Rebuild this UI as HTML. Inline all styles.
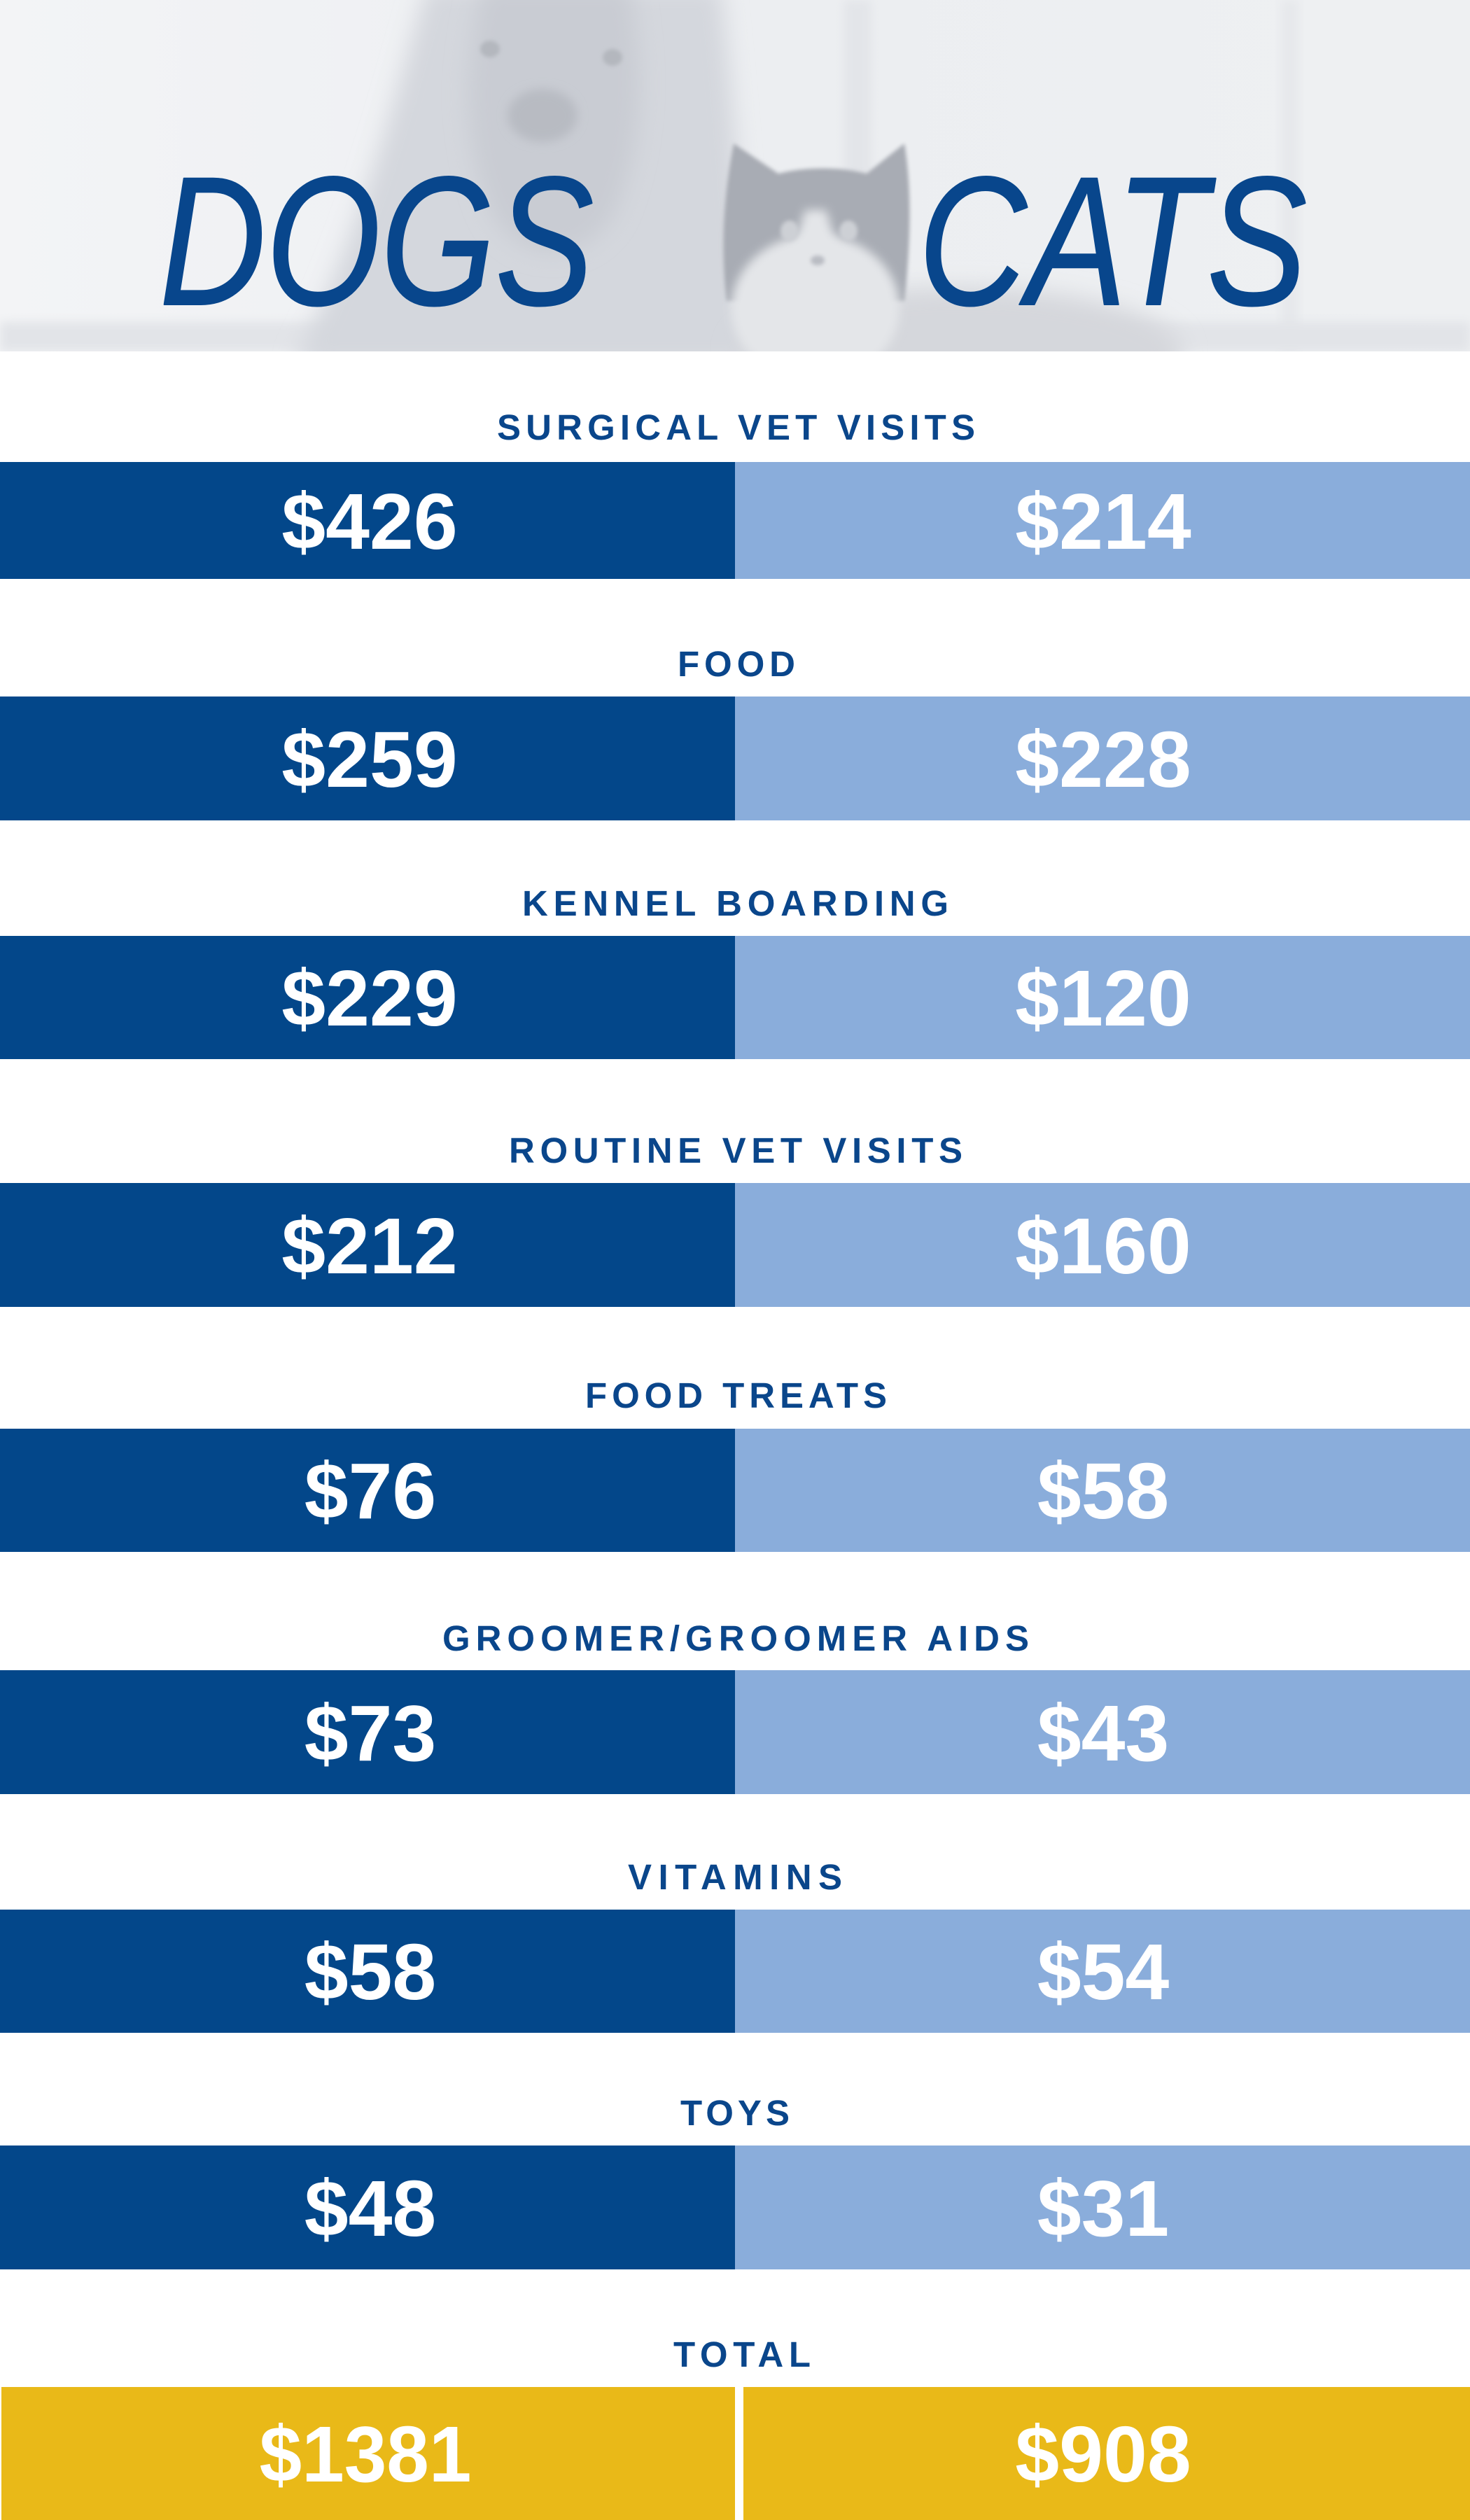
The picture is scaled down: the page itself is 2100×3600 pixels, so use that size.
<!DOCTYPE html>
<html>
<head>
<meta charset="utf-8">
<style>
html,body{margin:0;padding:0;background:#fff;}
body{width:2100px;height:3600px;overflow:hidden;}
svg{display:block;}
.lbl{font-family:"Liberation Sans",Arial,sans-serif;font-weight:bold;font-size:51px;fill:#0a468b;}
.val{font-family:"Liberation Sans",Arial,sans-serif;font-weight:bold;font-size:113px;fill:#ffffff;text-anchor:middle;}
.ttl{font-family:"Liberation Sans",Arial,sans-serif;font-style:italic;font-weight:normal;font-size:262px;fill:#08468c;stroke:#08468c;stroke-width:2px;stroke-linejoin:round;}
</style>
</head>
<body>
<svg width="2100" height="3600" viewBox="0 0 2100 3600" xmlns="http://www.w3.org/2000/svg">
<defs>
<filter id="bl" x="-30%" y="-30%" width="160%" height="160%"><feGaussianBlur stdDeviation="16"/></filter>
<filter id="bm" x="-30%" y="-30%" width="160%" height="160%"><feGaussianBlur stdDeviation="7"/></filter>
<filter id="bs" x="-30%" y="-30%" width="160%" height="160%"><feGaussianBlur stdDeviation="3"/></filter>
<linearGradient id="bg" x1="0" y1="0" x2="1" y2="0">
<stop offset="0" stop-color="#f3f4f6"/>
<stop offset="0.5" stop-color="#eceef1"/>
<stop offset="1" stop-color="#eef0f2"/>
</linearGradient>
<clipPath id="hc"><rect x="0" y="0" width="2100" height="502"/></clipPath>
</defs>

<!-- header photo approximation -->
<g clip-path="url(#hc)">
<rect x="0" y="0" width="2100" height="502" fill="url(#bg)"/>
<rect x="1205" y="0" width="40" height="502" fill="#e3e5e9" filter="url(#bm)"/>
<rect x="1830" y="0" width="25" height="502" fill="#e6e8eb" filter="url(#bm)"/>
<rect x="0" y="460" width="2100" height="42" fill="#e2e4e8" filter="url(#bm)"/>
<!-- dog -->
<path d="M610 -20 C560 150 520 320 420 520 L1080 520 C1060 350 1050 150 1030 -20 Z" fill="#d4d7dd" filter="url(#bl)"/>
<path d="M690 -20 C660 100 660 200 700 300 C740 380 840 380 880 300 C920 200 920 100 900 -20 Z" fill="#c9ccd3" filter="url(#bl)"/>
<ellipse cx="775" cy="165" rx="50" ry="38" fill="#b8bbc2" filter="url(#bm)"/>
<ellipse cx="700" cy="70" rx="14" ry="12" fill="#b4b7be" filter="url(#bs)"/>
<ellipse cx="875" cy="82" rx="14" ry="12" fill="#b4b7be" filter="url(#bs)"/>
<!-- cat body -->
<ellipse cx="1370" cy="505" rx="320" ry="95" fill="#d5d7dc" filter="url(#bl)"/>
<!-- cat head -->
<path d="M1038 430 C1028 340 1036 270 1048 205 L1112 248 C1150 238 1200 238 1238 248 L1292 205 C1302 265 1302 340 1292 430 Z" fill="#a8acb4" filter="url(#bs)"/>
<ellipse cx="1165" cy="440" rx="120" ry="105" fill="#e4e6e9" filter="url(#bm)"/>
<path d="M1150 300 L1180 300 L1215 420 L1115 420 Z" fill="#e4e6e9" filter="url(#bm)"/>
<ellipse cx="1128" cy="330" rx="13" ry="15" fill="#cdd0d5" filter="url(#bs)"/>
<ellipse cx="1212" cy="330" rx="13" ry="15" fill="#cdd0d5" filter="url(#bs)"/>
<ellipse cx="1168" cy="372" rx="10" ry="7" fill="#b9bcc3" filter="url(#bs)"/>
</g>

<!-- titles -->
<text class="ttl" x="228" y="435" textLength="620" lengthAdjust="spacingAndGlyphs">DOGS</text>
<text class="ttl" x="1312" y="435" textLength="555" lengthAdjust="spacingAndGlyphs">CATS</text>

<!-- rows -->
<text class="lbl" x="710" y="628" textLength="683" lengthAdjust="spacing">SURGICAL VET VISITS</text>
<rect x="0" y="660" width="1050" height="167" fill="#03478a"/>
<rect x="1050" y="660" width="1050" height="167" fill="#8aaddb"/>
<text class="val" x="528" y="784">$426</text>
<text class="val" x="1576" y="784">$214</text>

<text class="lbl" x="968" y="966" textLength="168" lengthAdjust="spacing">FOOD</text>
<rect x="0" y="995" width="1050" height="177" fill="#03478a"/>
<rect x="1050" y="995" width="1050" height="177" fill="#8aaddb"/>
<text class="val" x="528" y="1124">$259</text>
<text class="val" x="1576" y="1124">$228</text>

<text class="lbl" x="746" y="1308" textLength="609" lengthAdjust="spacing">KENNEL BOARDING</text>
<rect x="0" y="1337" width="1050" height="176" fill="#03478a"/>
<rect x="1050" y="1337" width="1050" height="176" fill="#8aaddb"/>
<text class="val" x="528" y="1465">$229</text>
<text class="val" x="1576" y="1465">$120</text>

<text class="lbl" x="727" y="1661" textLength="648" lengthAdjust="spacing">ROUTINE VET VISITS</text>
<rect x="0" y="1690" width="1050" height="177" fill="#03478a"/>
<rect x="1050" y="1690" width="1050" height="177" fill="#8aaddb"/>
<text class="val" x="528" y="1819">$212</text>
<text class="val" x="1576" y="1819">$160</text>

<text class="lbl" x="836" y="2011" textLength="431" lengthAdjust="spacing">FOOD TREATS</text>
<rect x="0" y="2041" width="1050" height="176" fill="#03478a"/>
<rect x="1050" y="2041" width="1050" height="176" fill="#8aaddb"/>
<text class="val" x="529" y="2169">$76</text>
<text class="val" x="1576" y="2169">$58</text>

<text class="lbl" x="632" y="2358" textLength="838" lengthAdjust="spacing">GROOMER/GROOMER AIDS</text>
<rect x="0" y="2386" width="1050" height="177" fill="#03478a"/>
<rect x="1050" y="2386" width="1050" height="177" fill="#8aaddb"/>
<text class="val" x="529" y="2515">$73</text>
<text class="val" x="1576" y="2515">$43</text>

<text class="lbl" x="897" y="2699" textLength="306" lengthAdjust="spacing">VITAMINS</text>
<rect x="0" y="2728" width="1050" height="176" fill="#03478a"/>
<rect x="1050" y="2728" width="1050" height="176" fill="#8aaddb"/>
<text class="val" x="529" y="2856">$58</text>
<text class="val" x="1576" y="2856">$54</text>

<text class="lbl" x="972" y="3036" textLength="156" lengthAdjust="spacing">TOYS</text>
<rect x="0" y="3065" width="1050" height="177" fill="#03478a"/>
<rect x="1050" y="3065" width="1050" height="177" fill="#8aaddb"/>
<text class="val" x="529" y="3194">$48</text>
<text class="val" x="1576" y="3194">$31</text>

<text class="lbl" x="962" y="3381" textLength="196" lengthAdjust="spacing">TOTAL</text>
<rect x="2" y="3410" width="1048" height="190" fill="#e9b918"/>
<rect x="1062" y="3410" width="1038" height="190" fill="#e9b918"/>
<text class="val" x="522" y="3545" textLength="303" lengthAdjust="spacingAndGlyphs">$1381</text>
<text class="val" x="1576" y="3545">$908</text>
</svg>
</body>
</html>
